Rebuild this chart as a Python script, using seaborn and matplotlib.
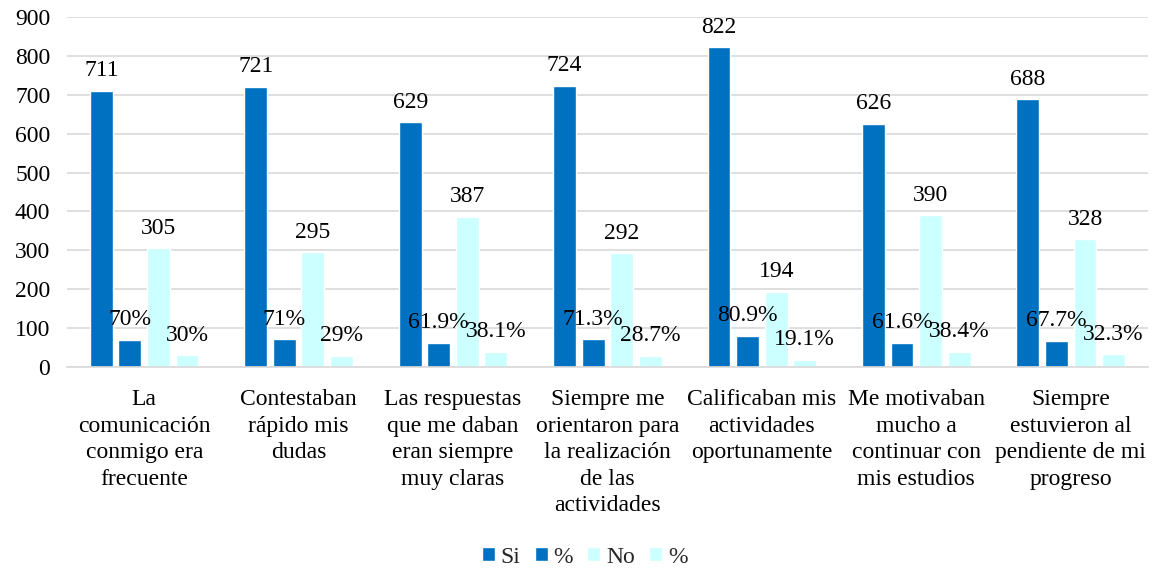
import pandas as pd
import matplotlib
matplotlib.use('Agg')
import matplotlib.pyplot as plt
import seaborn as sns

# Data
categorias = [
    'La\ncomunicación\nconmigo era\nfrecuente',
    'Contestaban\nrápido mis\ndudas',
    'Las respuestas\nque me daban\neran siempre\nmuy claras',
    'Siempre me\norientaron para\nla realización\nde las\nactividades',
    'Calificaban mis\nactividades\noportunamente',
    'Me motivaban\nmucho a\ncontinuar con\nmis estudios',
    'Siempre\nestuvieron al\npendiente de mi\nprogreso',
]
si = [711, 721, 629, 724, 822, 626, 688]
si_pct = [70, 71, 61.9, 71.3, 80.9, 61.6, 67.7]
no = [305, 295, 387, 292, 194, 390, 328]
no_pct = [30, 29, 38.1, 28.7, 19.1, 38.4, 32.3]

series = ['Si', '% Si', 'No', '% No']
legend_labels = ['Si', '%', 'No', '%']
DARK_BLUE = '#0070C0'
LIGHT_CYAN = '#CCFFFF'
palette = [DARK_BLUE, DARK_BLUE, LIGHT_CYAN, LIGHT_CYAN]

rows = []
for serie, vals in zip(series, [si, si_pct, no, no_pct]):
    for cat, v in zip(categorias, vals):
        rows.append({'categoria': cat, 'serie': serie, 'valor': v})
df = pd.DataFrame(rows)

sns.set_style('white')
plt.rcParams['font.family'] = ['Liberation Serif', 'DejaVu Serif']
FS = 17

fig = plt.figure(figsize=(11.69, 5.69), dpi=100)
ax = fig.add_axes([0.0573, 0.355, 0.9247, 0.615])

sns.barplot(data=df, x='categoria', y='valor', hue='serie', order=categorias,
            hue_order=series, palette=palette, saturation=1, width=0.74,
            gap=0.2, legend=False, ax=ax)

ax.set_ylim(0, 900)
ax.set_yticks(range(0, 901, 100))
ax.yaxis.grid(True, color='#D9D9D9', linewidth=1.2)
ax.set_axisbelow(True)
for s in ['left', 'right', 'top']:
    ax.spines[s].set_visible(False)
ax.spines['bottom'].set_color('#D9D9D9')
ax.spines['bottom'].set_linewidth(1.2)
ax.set_xlabel('')
ax.set_ylabel('')
ax.tick_params(axis='y', labelsize=FS, length=0, pad=12, colors='black')
ax.tick_params(axis='x', labelsize=FS, length=0, pad=16, colors='black')
for lbl in ax.get_xticklabels():
    lbl.set_linespacing(1.34)

# value labels
for cont, vals, serie in zip(ax.containers, [si, si_pct, no, no_pct], series):
    if serie.startswith('%'):
        texts = [f'{v:g}%' for v in vals]
    else:
        texts = [f'{v}' for v in vals]
    ax.bar_label(cont, labels=texts, padding=7, fontsize=FS, color='black')

handles = [c.patches[0] for c in ax.containers]
fig.legend(handles, legend_labels, loc='lower center', bbox_to_anchor=(0.5, -0.035),
           ncol=4, frameon=False, fontsize=FS, handlelength=0.55,
           handleheight=0.55, handletextpad=0.25, columnspacing=0.6)

fig.savefig('out.png', dpi=100)
